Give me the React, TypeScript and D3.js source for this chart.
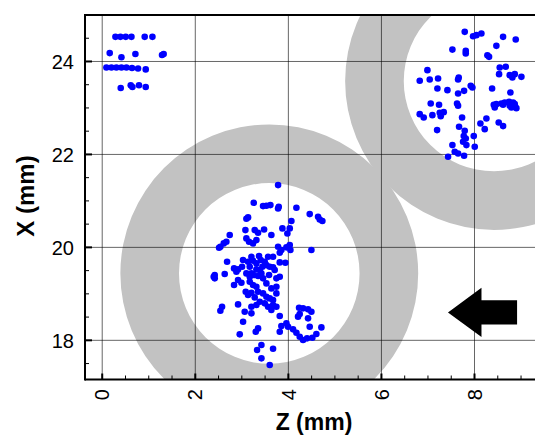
import React from "react";
import * as d3 from "d3";

// ---- data (mm) ----
const zDomain = [-0.37, 9.3];
const xDomain = [17.157, 25.0];
const zMajorTicks = [0, 2, 4, 6, 8];
const xMajorTicks = [18, 20, 22, 24];
const tickStep = 0.5;

// rings: [Z centre, X centre]
const ringCenters: [number, number][] = [
  [3.59, 19.44],
  [8.42, 23.58],
];
const ringOuterRadius = 3.2;
const ringInnerRadius = 1.94;

// arrow (pointing to -Z): tip, head base, shaft end, head half height, shaft half height
const arrowTip: [number, number] = [7.43, 18.6];
const arrowHeadBaseZ = 8.15;
const arrowTailZ = 8.915;
const arrowHeadHalf = 0.53;
const arrowShaftHalf = 0.26;

const topLeftPoints: [number, number][] = [
  [0.284, 24.53], [0.391, 24.53], [0.505, 24.53], [0.628, 24.53], [0.913, 24.53], [1.079, 24.53],
  [0.161, 24.18], [0.413, 24.09], [0.713, 24.16], [1.285, 24.14], [1.32, 24.16],
  [0.09, 23.87], [0.198, 23.87], [0.305, 23.87], [0.413, 23.87], [0.52, 23.87], [0.64, 23.86], [0.77, 23.85], [0.935, 23.83],
  [0.398, 23.43], [0.613, 23.49], [0.649, 23.45], [0.79, 23.49], [0.935, 23.45],
];

const centerPoints: [number, number][] = [
  [3.779, 21.34], [3.256, 20.96], [3.456, 20.888], [3.528, 20.895], [3.614, 20.91],
  [3.779, 20.838], [3.793, 20.874], [4.173, 20.852], [4.459, 20.716],
  [4.638, 20.659], [4.731, 20.566], [4.674, 20.6], [3.134, 20.645], [3.098, 20.616],
  [4.065, 20.566], [2.74, 20.265], [3.077, 20.372], [3.277, 20.372], [3.349, 20.315],
  [3.478, 20.386], [3.635, 20.265], [3.872, 20.408], [4.03, 20.408], [3.979, 20.3],
  [2.668, 20.121], [2.611, 20.085], [2.511, 19.992], [2.539, 20.014],
  [3.098, 20.193], [3.155, 20.121], [3.241, 20.085], [3.313, 20.157],
  [3.779, 20.014], [3.85, 19.942], [3.958, 20.0], [4.044, 19.942], [3.815, 19.885], [4.03, 20.05],
  [4.495, 19.942], [2.683, 19.691],
  [3.134, 19.691], [3.241, 19.713], [3.313, 19.655], [3.406, 19.727], [3.492, 19.691],
  [3.528, 19.619], [3.6, 19.584], [3.442, 19.584], [3.815, 19.677], [3.936, 19.67],
  [2.833, 19.548], [2.919, 19.526], [3.005, 19.584], [2.883, 19.476],
  [3.17, 19.584], [3.206, 19.44], [3.385, 19.512], [3.313, 19.526], [3.671, 19.57], [3.707, 19.512],
  [2.418, 19.404], [2.418, 19.333], [2.396, 19.368], [2.632, 19.426],
  [3.17, 19.368], [3.256, 19.404], [3.349, 19.383], [3.456, 19.333], [3.42, 19.44],
  [3.743, 19.333], [3.815, 19.368], [2.833, 19.189], [2.991, 19.239],
  [3.17, 19.26], [3.241, 19.189], [3.313, 19.153],
  [3.084, 19.046], [3.134, 18.975], [3.206, 19.024], [3.277, 18.924], [3.349, 19.046],
  [3.456, 19.01], [3.528, 18.938], [3.6, 18.902], [3.671, 18.867],
  [3.385, 18.831], [3.492, 18.795], [3.564, 18.723], [3.635, 18.652], [3.671, 18.759], [3.743, 18.723],
  [2.919, 18.773], [2.575, 18.723], [2.539, 18.637], [3.062, 18.616], [3.206, 18.58],
  [3.815, 18.523], [3.027, 18.401],
  [4.23, 18.702], [4.316, 18.688], [4.423, 18.666], [4.495, 18.616], [4.244, 18.566],
  [4.208, 18.509], [4.423, 18.473], [4.459, 18.293],
  [3.994, 18.293], [4.101, 18.236], [4.173, 18.164], [4.244, 18.078], [4.316, 18.006],
  [4.402, 18.042], [4.516, 18.056], [4.602, 18.135], [4.71, 18.278],
  [3.815, 18.186], [3.299, 18.186], [3.349, 18.257], [2.955, 18.128],
  [3.421, 17.9], [3.327, 17.792], [3.671, 17.82], [3.421, 17.612], [3.6, 17.469],
  [3.026, 19.727], [3.564, 19.799], [3.206, 19.799], [3.37, 19.814], [3.671, 19.799],
  [3.585, 19.404], [3.743, 19.153], [2.919, 19.297], [3.098, 19.44], [3.528, 19.225],
  [3.635, 19.117], [3.743, 19.01], [3.313, 18.759], [3.206, 18.723], [3.958, 18.365], [3.85, 18.307],
];

const upperRightPoints: [number, number][] = [
  [7.79, 24.637], [7.969, 24.544], [8.041, 24.566], [8.148, 24.602], [8.614, 24.53], [8.886, 24.472],
  [7.525, 24.256], [7.812, 24.228], [7.812, 24.171], [8.47, 24.336], [8.277, 24.135], [8.313, 24.1],
  [6.988, 23.813], [8.542, 23.871], [8.671, 23.885],
  [6.823, 23.584], [7.038, 23.612], [7.217, 23.634], [7.661, 23.655], [7.647, 23.612],
  [8.528, 23.727], [8.757, 23.706], [8.865, 23.727], [9.008, 23.669], [8.814, 23.655],
  [7.203, 23.419], [7.418, 23.383], [7.647, 23.311], [7.776, 23.368], [7.919, 23.476],
  [7.955, 23.44], [8.378, 23.419], [8.771, 23.333],
  [7.059, 23.096], [7.238, 23.068], [7.625, 23.096], [7.647, 23.046],
  [8.414, 23.068], [8.47, 23.082], [8.578, 23.096], [8.65, 23.118], [8.743, 23.132],
  [8.829, 23.118], [8.865, 23.082], [8.757, 23.046], [8.614, 23.068], [8.435, 23.01],
  [8.793, 23.01], [8.9, 22.996],
  [6.823, 22.867], [6.909, 22.795], [7.095, 22.845], [7.253, 22.895], [7.339, 22.91],
  [7.274, 22.824], [7.733, 22.795],
  [8.256, 22.773], [8.127, 22.666], [8.22, 22.544], [8.52, 22.687], [8.614, 22.609],
  [7.196, 22.523], [7.668, 22.595], [7.79, 22.508], [7.769, 22.394], [7.812, 22.344],
  [7.754, 22.272], [7.826, 22.201], [7.984, 22.394], [8.005, 22.165],
  [7.525, 22.201], [7.575, 22.057], [7.647, 22.021], [7.776, 21.971], [7.432, 21.95],
];

const W = 535;
const H = 436;
const plotLeft = 85;
const plotRight = 535;
const plotTop = 15;
const plotBottom = 379.5;
const FONT = "'Liberation Sans', Arial, Helvetica, sans-serif";

export default function App() {
  const x = d3.scaleLinear().domain(zDomain).range([plotLeft, plotRight]);
  const y = d3.scaleLinear().domain(xDomain).range([plotBottom, plotTop]);
  const rPx = (r: number) => x(r) - x(0);

  const zMinor = d3.range(0, zDomain[1], tickStep).filter((v) => !zMajorTicks.includes(v));
  const xMinor = d3.range(17.5, xDomain[1], tickStep).filter((v) => !xMajorTicks.includes(v));

  const ringPath = (c: [number, number]) => {
    const p = d3.path();
    const cx = x(c[0]);
    const cy = y(c[1]);
    const ro = rPx(ringOuterRadius);
    const ri = rPx(ringInnerRadius);
    p.moveTo(cx + ro, cy);
    p.arc(cx, cy, ro, 0, Math.PI * 2);
    p.closePath();
    p.moveTo(cx + ri, cy);
    p.arc(cx, cy, ri, 0, Math.PI * 2);
    p.closePath();
    return p.toString();
  };

  const arrowPts: [number, number][] = [
    [arrowTip[0], arrowTip[1]],
    [arrowHeadBaseZ, arrowTip[1] + arrowHeadHalf],
    [arrowHeadBaseZ, arrowTip[1] + arrowShaftHalf],
    [arrowTailZ, arrowTip[1] + arrowShaftHalf],
    [arrowTailZ, arrowTip[1] - arrowShaftHalf],
    [arrowHeadBaseZ, arrowTip[1] - arrowShaftHalf],
    [arrowHeadBaseZ, arrowTip[1] - arrowHeadHalf],
  ];
  const arrowD =
    d3.line<[number, number]>().x((d) => x(d[0])).y((d) => y(d[1]))(arrowPts) + "Z";

  const allPoints = [...topLeftPoints, ...centerPoints, ...upperRightPoints];

  return (
    <svg
      width={W}
      height={H}
      style={{ position: "absolute", left: 0, top: 0, background: "#fff" }}
      fontFamily={FONT}
    >
      <defs>
        <clipPath id="plotClip">
          <rect x={plotLeft} y={plotTop} width={plotRight - plotLeft} height={plotBottom - plotTop} />
        </clipPath>
      </defs>
      <rect x={0} y={0} width={W} height={H} fill="#fff" />
      <g clipPath="url(#plotClip)">
        {ringCenters.map((c, i) => (
          <path key={"ring" + i} d={ringPath(c)} fill="#c2c2c2" fillRule="evenodd" />
        ))}
        {zMajorTicks.map((t) => (
          <line key={"gz" + t} x1={x(t)} x2={x(t)} y1={plotTop} y2={plotBottom}
            stroke="#000" strokeOpacity={0.6} strokeWidth={1} />
        ))}
        {xMajorTicks.map((t) => (
          <line key={"gx" + t} x1={plotLeft} x2={plotRight} y1={y(t)} y2={y(t)}
            stroke="#000" strokeOpacity={0.6} strokeWidth={1} />
        ))}
        {allPoints.map((d, i) => (
          <circle key={"p" + i} cx={x(d[0])} cy={y(d[1])} r={3.3} fill="#0000ff" />
        ))}
        <path d={arrowD} fill="#000" />
      </g>

      {/* axes frame */}
      <line x1={plotLeft} x2={plotRight} y1={plotTop} y2={plotTop} stroke="#000" strokeWidth={2} />
      <line x1={plotLeft} x2={plotRight} y1={plotBottom} y2={plotBottom} stroke="#000" strokeWidth={2} />
      <line x1={plotLeft} x2={plotLeft} y1={plotTop - 1} y2={plotBottom + 1} stroke="#000" strokeWidth={2} />

      {/* bottom ticks */}
      {zMajorTicks.map((t) => (
        <line key={"tz" + t} x1={x(t)} x2={x(t)} y1={plotBottom} y2={plotBottom - 6} stroke="#000" strokeWidth={2} />
      ))}
      {zMinor.map((t) => (
        <line key={"mz" + t} x1={x(t)} x2={x(t)} y1={plotBottom} y2={plotBottom - 4} stroke="#000" strokeWidth={1} />
      ))}
      {/* left ticks */}
      {xMajorTicks.map((t) => (
        <line key={"tx" + t} x1={plotLeft} x2={plotLeft + 7} y1={y(t)} y2={y(t)} stroke="#000" strokeWidth={2} />
      ))}
      {xMinor.map((t) => (
        <line key={"mx" + t} x1={plotLeft} x2={plotLeft + 4} y1={y(t)} y2={y(t)} stroke="#000" strokeWidth={1} />
      ))}

      {/* tick labels */}
      {zMajorTicks.map((t) => (
        <text key={"lz" + t} transform={`translate(${x(t) + 7.2},389) rotate(-90)`}
          textAnchor="end" fontSize={20} fill="#000">{t}</text>
      ))}
      {xMajorTicks.map((t) => (
        <text key={"lx" + t} x={74} y={y(t) + 7.2} textAnchor="end" fontSize={20} fill="#000">{t}</text>
      ))}

      {/* axis titles */}
      <text x={314} y={430} textAnchor="middle" fontSize={23} fontWeight="bold" fill="#000">Z (mm)</text>
      <text transform="translate(33.5,196) rotate(-90)" textAnchor="middle" fontSize={24} fontWeight="bold" fill="#000">X (mm)</text>
    </svg>
  );
}
